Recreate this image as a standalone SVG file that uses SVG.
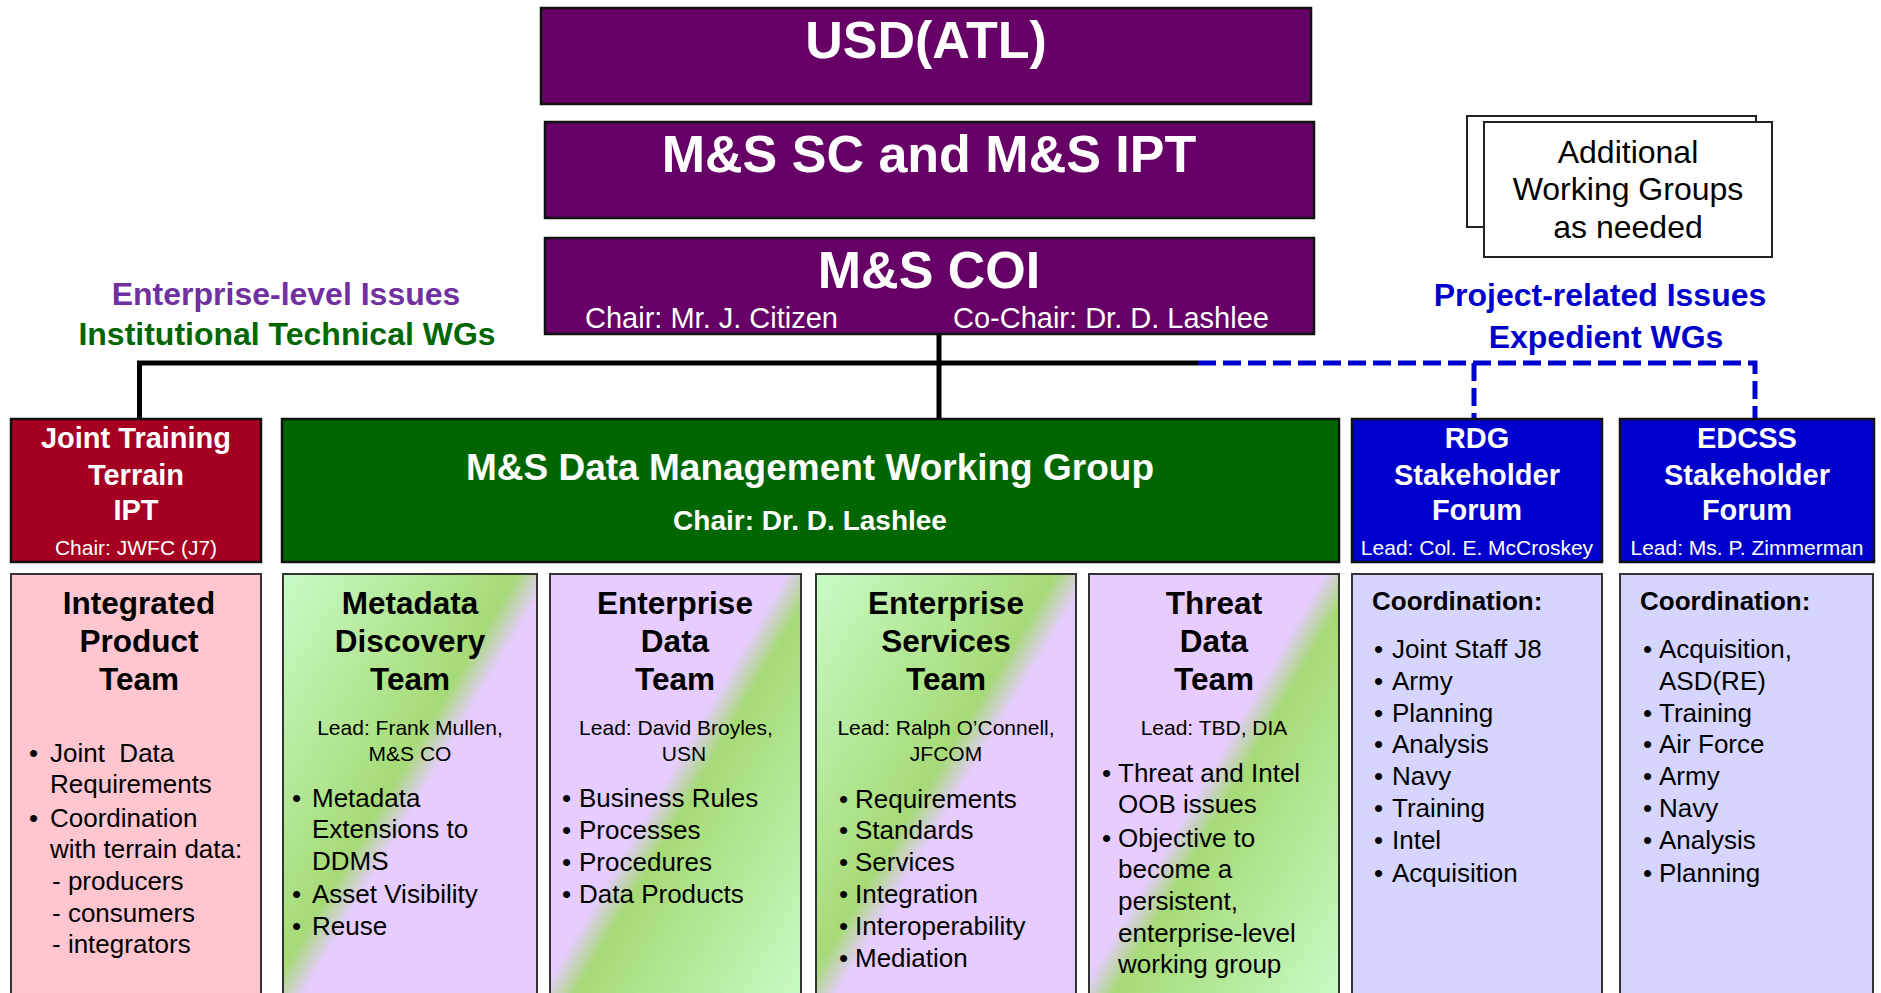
<svg xmlns="http://www.w3.org/2000/svg" width="1881" height="993" viewBox="0 0 1881 993">
<defs>
<style>
text{font-family:"Liberation Sans",Arial,Helvetica,sans-serif}
.top{fill:#660066;stroke:#111;stroke-width:2.5}
.wt{fill:#fff;font-weight:bold;text-anchor:middle}
.w{fill:#fff;text-anchor:middle}
.bt{fill:#000;font-weight:bold;text-anchor:middle;font-size:31.5px}
.b{fill:#000;font-size:26px}
.lead{fill:#000;font-size:21px;text-anchor:middle}
.r2{stroke:#111;stroke-width:2.5}
.r3{stroke:#333;stroke-width:2}
.solid{stroke:#000;stroke-width:5;fill:none}
.dash{stroke:#0000CC;stroke-width:5;fill:none;stroke-dasharray:18 7}
</style>
<linearGradient id="gp" x1="0" y1="0" x2="1" y2="1">
<stop offset="0" stop-color="#C8FCC8"/>
<stop offset="0.46" stop-color="#A6DA76"/>
<stop offset="0.53" stop-color="#E6CCFF"/>
<stop offset="1" stop-color="#E6CCFF"/>
</linearGradient>
<linearGradient id="pg" x1="0" y1="0" x2="1" y2="1">
<stop offset="0" stop-color="#E6CCFF"/>
<stop offset="0.47" stop-color="#E6CCFF"/>
<stop offset="0.54" stop-color="#A6DA76"/>
<stop offset="1" stop-color="#C8FCC8"/>
</linearGradient>
</defs>
<rect width="1881" height="993" fill="#fff"/>

<g id="connectors">
<path class="solid" d="M139.5,421 V363 H1198"/>
<path class="solid" d="M939,334 V420"/>
<path class="dash" d="M1198,363 H1755 V418"/>
<path class="dash" d="M1474,363 V418"/>
</g>

<g id="usd">
<rect class="top" x="541" y="8" width="770" height="96"/>
<text class="wt" x="926" y="58" font-size="52">USD(ATL)</text>
</g>
<g id="sc">
<rect class="top" x="545" y="122" width="769" height="96"/>
<text class="wt" x="929" y="172" font-size="52">M&amp;S SC and M&amp;S IPT</text>
</g>
<g id="coi">
<rect class="top" x="545" y="238" width="769" height="96"/>
<text class="wt" x="929" y="288" font-size="52">M&amp;S COI</text>
<text fill="#fff" x="585" y="328" font-size="29">Chair: Mr. J. Citizen</text>
<text fill="#fff" x="953" y="328" font-size="29">Co-Chair: Dr. D. Lashlee</text>
</g>

<g id="additional">
<rect x="1467" y="116" width="289" height="111" fill="#fff" stroke="#222" stroke-width="2"/>
<rect x="1484" y="122" width="288" height="135" fill="#fff" stroke="#222" stroke-width="2"/>
<text x="1628" y="163" font-size="32" text-anchor="middle">Additional</text>
<text x="1628" y="200" font-size="32" text-anchor="middle">Working Groups</text>
<text x="1628" y="238" font-size="32" text-anchor="middle">as needed</text>
</g>

<g id="labels">
<text x="286" y="305" font-size="32" font-weight="bold" fill="#7030A0" text-anchor="middle">Enterprise-level Issues</text>
<text x="287" y="345" font-size="32" font-weight="bold" fill="#006600" text-anchor="middle">Institutional Technical WGs</text>
<text x="1600" y="306" font-size="32" font-weight="bold" fill="#0000CC" text-anchor="middle">Project-related Issues</text>
<text x="1606" y="348" font-size="32" font-weight="bold" fill="#0000CC" text-anchor="middle">Expedient WGs</text>
</g>

<g id="jtt">
<rect class="r2" x="11" y="419" width="250" height="143" fill="#A50021"/>
<text class="wt" x="136" y="448" font-size="29">Joint Training</text>
<text class="wt" x="136" y="485" font-size="29">Terrain</text>
<text class="wt" x="136" y="520" font-size="29">IPT</text>
<text class="w" x="136" y="555" font-size="21">Chair: JWFC (J7)</text>
</g>
<g id="dmwg">
<rect class="r2" x="282" y="419" width="1057" height="143" fill="#006600"/>
<text class="wt" x="810" y="480" font-size="37">M&amp;S Data Management Working Group</text>
<text class="wt" x="810" y="530" font-size="28">Chair: Dr. D. Lashlee</text>
</g>
<g id="rdg">
<rect class="r2" x="1352" y="419" width="250" height="143" fill="#0000CC"/>
<text class="wt" x="1477" y="448" font-size="29">RDG</text>
<text class="wt" x="1477" y="485" font-size="29">Stakeholder</text>
<text class="wt" x="1477" y="520" font-size="29">Forum</text>
<text class="w" x="1477" y="555" font-size="21">Lead: Col. E. McCroskey</text>
</g>
<g id="edcss">
<rect class="r2" x="1620" y="419" width="254" height="143" fill="#0000CC"/>
<text class="wt" x="1747" y="448" font-size="29">EDCSS</text>
<text class="wt" x="1747" y="485" font-size="29">Stakeholder</text>
<text class="wt" x="1747" y="520" font-size="29">Forum</text>
<text class="w" x="1747" y="555" font-size="21">Lead: Ms. P. Zimmerman</text>
</g>

<g id="ipt">
<rect class="r3" x="11" y="574" width="250" height="430" fill="#FFC6D0"/>
<text class="bt" x="139" y="614">Integrated</text>
<text class="bt" x="139" y="652">Product</text>
<text class="bt" x="139" y="690">Team</text>
<text class="b" x="29" y="762">•</text>
<text class="b" x="50" y="762" xml:space="preserve">Joint  Data</text>
<text class="b" x="50" y="793">Requirements</text>
<text class="b" x="29" y="827">•</text>
<text class="b" x="50" y="827">Coordination</text>
<text class="b" x="50" y="858">with terrain data:</text>
<text class="b" x="52" y="890" xml:space="preserve">- producers</text>
<text class="b" x="52" y="922" xml:space="preserve">- consumers</text>
<text class="b" x="52" y="953" xml:space="preserve">- integrators</text>
</g>
<g id="metadata">
<rect class="r3" x="283" y="574" width="254" height="430" fill="url(#gp)"/>
<text class="bt" x="410" y="614">Metadata</text>
<text class="bt" x="410" y="652">Discovery</text>
<text class="bt" x="410" y="690">Team</text>
<text class="lead" x="410" y="735">Lead: Frank Mullen,</text>
<text class="lead" x="410" y="761">M&amp;S CO</text>
<text class="b" x="292" y="807">•</text>
<text class="b" x="312" y="807">Metadata</text>
<text class="b" x="312" y="838">Extensions to</text>
<text class="b" x="312" y="870">DDMS</text>
<text class="b" x="292" y="903">•</text>
<text class="b" x="312" y="903">Asset Visibility</text>
<text class="b" x="292" y="935">•</text>
<text class="b" x="312" y="935">Reuse</text>
</g>
<g id="entdata">
<rect class="r3" x="550" y="574" width="251" height="430" fill="url(#pg)"/>
<text class="bt" x="675" y="614">Enterprise</text>
<text class="bt" x="675" y="652">Data</text>
<text class="bt" x="675" y="690">Team</text>
<text class="lead" x="676" y="735">Lead: David Broyles,</text>
<text class="lead" x="684" y="761">USN</text>
<text class="b" x="562" y="807">•</text>
<text class="b" x="579" y="807">Business Rules</text>
<text class="b" x="562" y="839">•</text>
<text class="b" x="579" y="839">Processes</text>
<text class="b" x="562" y="871">•</text>
<text class="b" x="579" y="871">Procedures</text>
<text class="b" x="562" y="903">•</text>
<text class="b" x="579" y="903">Data Products</text>
</g>
<g id="entservices">
<rect class="r3" x="816" y="574" width="260" height="430" fill="url(#gp)"/>
<text class="bt" x="946" y="614">Enterprise</text>
<text class="bt" x="946" y="652">Services</text>
<text class="bt" x="946" y="690">Team</text>
<text class="lead" x="946" y="735">Lead: Ralph O’Connell,</text>
<text class="lead" x="946" y="761">JFCOM</text>
<text class="b" x="839" y="808">•</text>
<text class="b" x="855" y="808">Requirements</text>
<text class="b" x="839" y="839">•</text>
<text class="b" x="855" y="839">Standards</text>
<text class="b" x="839" y="871">•</text>
<text class="b" x="855" y="871">Services</text>
<text class="b" x="839" y="903">•</text>
<text class="b" x="855" y="903">Integration</text>
<text class="b" x="839" y="935">•</text>
<text class="b" x="855" y="935">Interoperability</text>
<text class="b" x="839" y="967">•</text>
<text class="b" x="855" y="967">Mediation</text>
</g>
<g id="threat">
<rect class="r3" x="1089" y="574" width="250" height="430" fill="url(#pg)"/>
<text class="bt" x="1214" y="614">Threat</text>
<text class="bt" x="1214" y="652">Data</text>
<text class="bt" x="1214" y="690">Team</text>
<text class="lead" x="1214" y="735">Lead: TBD, DIA</text>
<text class="b" x="1102" y="782">•</text>
<text class="b" x="1118" y="782">Threat and Intel</text>
<text class="b" x="1118" y="813">OOB issues</text>
<text class="b" x="1102" y="847">•</text>
<text class="b" x="1118" y="847">Objective to</text>
<text class="b" x="1118" y="878">become a</text>
<text class="b" x="1118" y="910">persistent,</text>
<text class="b" x="1118" y="942">enterprise-level</text>
<text class="b" x="1118" y="973">working group</text>
</g>
<g id="rdgcoord">
<rect class="r3" x="1352" y="574" width="250" height="430" fill="#D5D5FF"/>
<text class="b" x="1372" y="610" font-weight="bold">Coordination:</text>
<text class="b" x="1374" y="658">•</text><text class="b" x="1392" y="658">Joint Staff J8</text>
<text class="b" x="1374" y="690">•</text><text class="b" x="1392" y="690">Army</text>
<text class="b" x="1374" y="722">•</text><text class="b" x="1392" y="722">Planning</text>
<text class="b" x="1374" y="753">•</text><text class="b" x="1392" y="753">Analysis</text>
<text class="b" x="1374" y="785">•</text><text class="b" x="1392" y="785">Navy</text>
<text class="b" x="1374" y="817">•</text><text class="b" x="1392" y="817">Training</text>
<text class="b" x="1374" y="849">•</text><text class="b" x="1392" y="849">Intel</text>
<text class="b" x="1374" y="882">•</text><text class="b" x="1392" y="882">Acquisition</text>
</g>
<g id="edcsscoord">
<rect class="r3" x="1620" y="574" width="253" height="430" fill="#D5D5FF"/>
<text class="b" x="1640" y="610" font-weight="bold">Coordination:</text>
<text class="b" x="1643" y="658">•</text><text class="b" x="1659" y="658">Acquisition,</text>
<text class="b" x="1659" y="690">ASD(RE)</text>
<text class="b" x="1643" y="722">•</text><text class="b" x="1659" y="722">Training</text>
<text class="b" x="1643" y="753">•</text><text class="b" x="1659" y="753">Air Force</text>
<text class="b" x="1643" y="785">•</text><text class="b" x="1659" y="785">Army</text>
<text class="b" x="1643" y="817">•</text><text class="b" x="1659" y="817">Navy</text>
<text class="b" x="1643" y="849">•</text><text class="b" x="1659" y="849">Analysis</text>
<text class="b" x="1643" y="882">•</text><text class="b" x="1659" y="882">Planning</text>
</g>
</svg>
